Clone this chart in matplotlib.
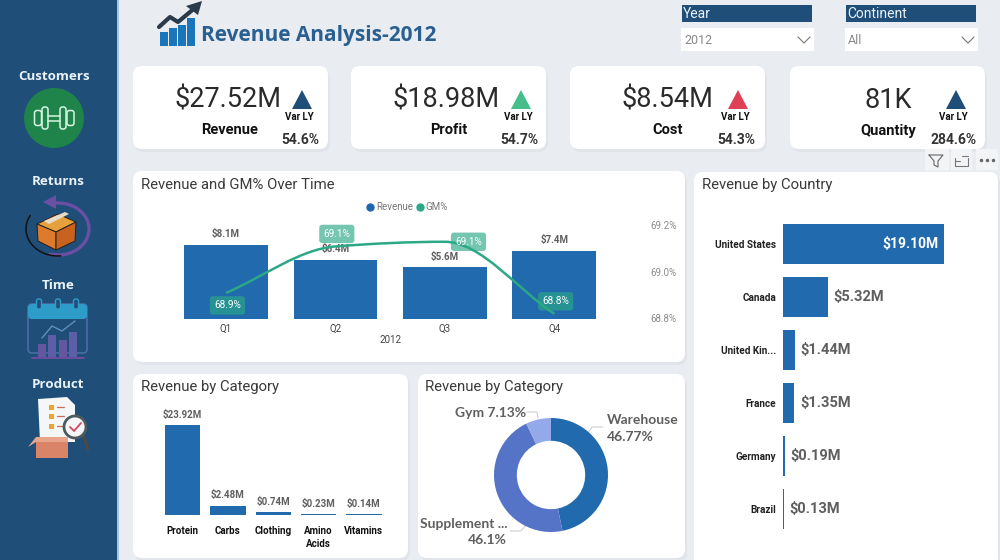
#!/usr/bin/env python
import numpy as np
import matplotlib
matplotlib.use('agg')
import matplotlib.pyplot as plt
from matplotlib.lines import Line2D
from matplotlib.patches import FancyBboxPatch, Rectangle, Circle, Ellipse, Polygon, PathPatch
from matplotlib.path import Path

plt.rcParams['font.family'] = ['Roboto', 'DejaVu Sans']

# KPI cards
kpi_names = ['Revenue', 'Profit', 'Cost', 'Quantity']
kpi_values = ['$27.52M', '$18.98M', '$8.54M', '81K']
kpi_vars = ['54.6%', '54.7%', '54.3%', '284.6%']

# Combo chart
quarters = ['Q1', 'Q2', 'Q3', 'Q4']
revenue = [8.1, 6.4, 5.6, 7.4]
gm_pct = [68.91, 69.11, 69.13, 68.82]
gm_labels = ['68.9%', '69.1%', '69.1%', '68.8%']

# Category bars
categories = ['Protein', 'Carbs', 'Clothing', 'Amino\nAcids', 'Vitamins']
category_rev = [23.92, 2.48, 0.74, 0.23, 0.14]

# Donut
channels = ['Warehouse', 'Supplement ...', 'Gym']
channel_pct = [46.77, 46.1, 7.13]

# Country bars
countries = ['United States', 'Canada', 'United Kin...', 'France', 'Germany', 'Brazil']
country_rev = [19.10, 5.32, 1.44, 1.35, 0.19, 0.13]

NAVY = '#1F4E79'
BLUE = '#216AAE'
GREEN = '#2BA886'
BG = '#E9ECF1'
TXT = '#3A3A3A'
GREY = '#5F5F5F'

W, H = 1000, 560
fig = plt.figure(figsize=(10, 5.6), dpi=100, facecolor=BG)
bg = fig.add_axes([0, 0, 1, 1], zorder=0)
bg.set_xlim(0, W)
bg.set_ylim(H, 0)
bg.axis('off')


def px_axes(x0, y0, x1, y1):
    ax = fig.add_axes([x0 / W, 1 - y1 / H, (x1 - x0) / W, (y1 - y0) / H], zorder=2)
    ax.patch.set_alpha(0)
    for s in ax.spines.values():
        s.set_visible(False)
    ax.tick_params(length=0)
    return ax


def card(x0, y0, x1, y1, r=9):
    bg.add_patch(FancyBboxPatch((x0 + 2, y0 + 3), x1 - x0, y1 - y0, boxstyle='round,pad=0,rounding_size=%d' % r,
                                fc='#D5D9DF', ec='none', alpha=0.4, zorder=1))
    bg.add_patch(FancyBboxPatch((x0, y0), x1 - x0, y1 - y0, boxstyle='round,pad=0,rounding_size=%d' % r,
                                fc='white', ec='none', zorder=2))


def poly(pts, fc, z=5, ec='none', lw=0):
    bg.add_patch(Polygon(pts, closed=True, fc=fc, ec=ec, lw=lw, zorder=z))


def line(xs, ys, c, lw=1.0, z=5):
    bg.plot(xs, ys, color=c, lw=lw, zorder=z, solid_capstyle='round', solid_joinstyle='round')


# sidebar
bg.add_patch(Rectangle((0, 0), 117, H, fc=NAVY, ec='none', zorder=1))
bg.add_patch(Rectangle((117, 0), 2, H, fc='#A9C4E4', ec='none', zorder=1))
side_font = dict(color='#EAF2F8', fontsize=9.6, fontweight='bold', ha='center', va='center',
                 family='Open Sans', zorder=6)
bg.text(54, 76, 'Customers', **side_font)
bg.text(58, 181.5, 'Returns', **side_font)
bg.text(58, 285.5, 'Time', **side_font)
bg.text(58, 384.5, 'Product', **side_font)

# dumbbell icon
bg.add_patch(Ellipse((54, 118), 60, 60, fc='#1E8449', ec='none', zorder=4))
for x0, w, h in [(34.5, 7, 15), (42, 6, 22), (60, 6, 22), (67, 7, 15)]:
    bg.add_patch(FancyBboxPatch((x0, 118 - h / 2), w, h, boxstyle='round,pad=0,rounding_size=2.5',
                                fc='none', ec='#D9F5E3', lw=1.1, zorder=5))
line([48, 60], [115.5, 115.5], '#D9F5E3', 1.1)
line([48, 60], [120.5, 120.5], '#D9F5E3', 1.1)

# returns icon
t = np.radians(np.linspace(-105, 95, 50))
line(58 + 31 * np.cos(t), 229 - 26 * np.sin(t), '#6A4FA3', 2.4)
poly([(43, 202), (56, 195), (56, 209)], '#6A4FA3')
t = np.radians(np.linspace(150, 275, 30))
line(58 + 32 * np.cos(t), 229 - 27 * np.sin(t), '#111111', 1.1)
poly([(37, 224), (58, 214), (76, 222), (56, 232)], '#E5A23C', ec='#222222', lw=0.7)
poly([(37, 224), (56, 232), (56, 250), (38, 241)], '#DD7A2C', ec='#222222', lw=0.7)
poly([(56, 232), (76, 222), (75, 241), (56, 250)], '#C9621F', ec='#222222', lw=0.7)
poly([(44, 221), (65, 212), (69, 214), (49, 224)], '#E8DCC8')

# calendar icon
bg.add_patch(FancyBboxPatch((28, 304), 59, 49, boxstyle='round,pad=0,rounding_size=4', fc='none',
                            ec='#4D6FA8', lw=1.1, zorder=4))
bg.add_patch(FancyBboxPatch((28, 304), 59, 15, boxstyle='round,pad=0,rounding_size=4', fc='#2D9CC9',
                            ec='none', zorder=5))
for x0 in [39, 58, 76]:
    bg.add_patch(FancyBboxPatch((x0 - 2.5, 299), 5, 10, boxstyle='round,pad=0,rounding_size=2', fc=NAVY,
                                ec='#2D9CC9', lw=1, zorder=6))
for x0, y0, c in [(38, 344, '#64579F'), (48, 335, '#5C5FA8'), (59, 340, '#64579F'), (69, 332, '#5C5FA8')]:
    bg.add_patch(Rectangle((x0, y0), 8, 357 - y0, fc=c, ec='none', zorder=5))
line([42, 52, 62, 75], [338, 326, 331, 321], '#5E90B8', 1)
line([32, 84], [358, 358], '#6A4FA3', 1.4)

# product icon
poly([(38, 399), (67, 397), (75, 405), (75, 442), (40, 442)], '#F4F6F8')
for y0 in [407, 416, 426]:
    bg.add_patch(Rectangle((49, y0 - 2), 5, 5, fc='#EFA42E', ec='none', zorder=6))
    line([57, 64], [y0, y0], '#C96E5A', 0.9, 6)
poly([(36, 437), (68, 437), (68, 458), (36, 458)], '#D98468')
poly([(28, 447), (36, 437), (68, 437), (68, 442), (36, 442)], '#E8A58C')
line([84, 88], [437, 449], '#4A4A4A', 2.4)
bg.add_patch(Circle((75, 427), 11, fc='#F4F6F8', ec='#4D5B5E', lw=2, zorder=7))
line([70, 74, 81], [427, 431, 423], '#D8455A', 1.3, 8)

# logo and title
for x0, h in [(160, 14), (169, 18), (178, 21), (187, 28)]:
    bg.add_patch(Rectangle((x0, 46 - h), 8, h, fc='#1A75BB', ec='none', zorder=4))
line([159, 170, 178, 196], [27, 17, 22, 7], '#2B3A4A', 3, 5)
poly([(186, 6), (202, 1), (198, 15)], '#2B3A4A')
bg.text(201, 35, 'Revenue Analysis-2012', color='#2A6090', fontsize=15, fontweight='bold', family='Open Sans',
        ha='left', va='center', zorder=5)

# slicers
for x0, name, val in [(682, 'Year', '2012'), (846, 'Continent', 'All')]:
    bg.add_patch(Rectangle((x0, 5), 130, 17, fc=NAVY, ec='none', zorder=3))
    bg.text(x0 + 1, 14, name, color='#EAF2F8', fontsize=10, ha='left', va='center', zorder=4)
    bg.add_patch(Rectangle((x0 - 1, 28), 133, 23, fc='white', ec='none', zorder=3))
    bg.text(x0 + 2, 41, val, color='#8A8A8A', fontsize=9, ha='left', va='center', zorder=4)
    line([x0 + 116, x0 + 122, x0 + 128], [37, 43, 37], '#777777', 0.8)

# KPI cards
card_x = [133, 351, 570, 790]
arrow_c = [NAVY, '#45BE8A', '#E04055', NAVY]
value_x = [282, 500, 713, 912]
name_x = [230, 449, 668, 888]
var_x = [299, 518, 735, 953]
for i in range(4):
    card(card_x[i], 66, card_x[i] + 195, 149)
    bg.text(value_x[i], 100, kpi_values[i], color='#2A2A2A', fontsize=19.5, ha='right', va='center', zorder=5)
    bg.text(name_x[i], 130.5, kpi_names[i], color='#111111', fontsize=10.5, fontweight='bold', ha='center',
            va='center', zorder=5)
    bg.text(var_x[i], 116.5, 'Var LY', color='#111111', fontsize=7, fontweight='bold', ha='center', va='center', zorder=5)
    bg.text(var_x[i] + 1, 139.5, kpi_vars[i], color='#333333', fontsize=10, fontweight='bold', ha='center',
            va='center', zorder=5)
    ax_ = var_x[i] + 3
    poly([(ax_ - 10, 109), (ax_, 90), (ax_ + 10, 109)], arrow_c[i])

# visual header icons
for x0, w in [(925, 24), (951, 21), (976, 22)]:
    bg.add_patch(Rectangle((x0, 149), w, 21, fc='#F3F4F6', ec='none', zorder=3))
line([929, 943, 938, 938, 934, 934, 929], [155, 155, 161, 167, 165, 161, 155], '#666666', 0.8)
line([955, 955, 968, 968], [158, 166, 166, 158], '#777777', 0.8)
line([955, 960], [161, 161], '#777777', 0.8)
line([962, 968], [156, 156], '#777777', 0.8)
bg.plot([981, 987, 993], [160, 160, 160], ls='none', marker='o', ms=1.5, color='#666666', zorder=5)

# panels
card(133, 171, 685, 362)
card(694, 172, 998, 566)
card(133, 374, 408, 558)
card(418, 374, 685, 558)
title_font = dict(color=TXT, fontsize=10.7, ha='left', va='center', zorder=5)
bg.text(141, 185, 'Revenue and GM% Over Time', **title_font)
bg.text(702, 185, 'Revenue by Country', **title_font)
bg.text(141, 387, 'Revenue by Category', **title_font)
bg.text(425, 387, 'Revenue by Category', **title_font)

# combo chart
ax = px_axes(171.3, 214, 609, 318.5)
x = np.arange(len(quarters))
ax.bar(x, revenue, width=0.765, color=BLUE)
ax.set_xlim(-0.5, 3.5)
ax.set_ylim(0, 11.44)
ax.set_xticks(x, quarters, fontsize=7, color='#444444')
ax.set_yticks([])
ax.set_xlabel('2012', fontsize=7, color='#444444', labelpad=1)
ax.tick_params(axis='x', pad=4)
for xi, v in zip(x, revenue):
    ax.annotate('$%.1fM' % v, (xi, v), xytext=(0, 4), textcoords='offset points', ha='center', va='bottom',
                fontsize=7, fontweight='bold', color=GREY, zorder=3)

ax2 = ax.twinx()
ax2.patch.set_alpha(0)
for s in ax2.spines.values():
    s.set_visible(False)
ax2.set_ylim(68.8, 68.8 + 104.5 / 232.5)
ax2.set_yticks([68.8, 69.0, 69.2], ['68.8%', '69.0%', '69.2%'], fontsize=7, color='#8C8C8C')
ax2.tick_params(length=0, pad=30)

# monotone smoothing between the four quarter values
d = np.diff(gm_pct)
tang = [d[0]]
for i in range(2):
    tang.append(2 * d[i] * d[i + 1] / (d[i] + d[i + 1]) if d[i] * d[i + 1] > 0 else 0.0)
tang.append(d[-1])
verts = [(x[0], gm_pct[0])]
codes = [Path.MOVETO]
for i in range(3):
    verts += [(x[i] + 1 / 3, gm_pct[i] + tang[i] / 3),
              (x[i + 1] - 1 / 3, gm_pct[i + 1] - tang[i + 1] / 3),
              (x[i + 1], gm_pct[i + 1])]
    codes += [Path.CURVE4] * 3
ax2.add_patch(PathPatch(Path(verts, codes), fc='none', ec=GREEN, lw=1.8, zorder=4))
label_off = [(1, -9), (1, 9), (17, 0), (1, 9)]
for xi, v, s, off in zip(x, gm_pct, gm_labels, label_off):
    ax2.annotate(s, (xi, v), xytext=off, textcoords='offset points', ha='center', va='center', fontsize=7.2,
                 color='white', zorder=5,
                 bbox=dict(boxstyle='round,pad=0.42,rounding_size=0.3', fc=GREEN, ec='none', alpha=0.65))
fig.legend(handles=[Line2D([], [], ls='none', marker='o', ms=5, color='#1F66B0'),
                    Line2D([], [], ls='none', marker='o', ms=5, color=GREEN)],
           labels=['Revenue', 'GM%'], loc='center', bbox_to_anchor=(407 / W, 1 - 207.5 / H), ncol=2, frameon=False,
           fontsize=7, labelcolor='#777777', handlelength=0.8, handletextpad=0.2, columnspacing=0.3, borderpad=0)

# category bars
ax = px_axes(160, 400, 386.5, 515)
x = np.arange(len(categories))
ax.bar(x, category_rev, width=0.78, color=BLUE)
ax.set_xlim(-0.5, 4.5)
ax.set_ylim(0, 115 / 3.76)
ax.set_xticks(x, categories, fontsize=7, fontweight='bold', color='#111111', linespacing=1.3)
ax.set_yticks([])
ax.tick_params(axis='x', pad=8)
for xi, v in zip(x, category_rev):
    ax.annotate('$%.2fM' % v, (xi, v), xytext=(0, 4), textcoords='offset points', ha='center', va='bottom',
                fontsize=7, fontweight='bold', color=GREY)

# donut
ax = px_axes(491, 413, 611, 537)
ax.pie(channel_pct, startangle=90, counterclock=False, radius=1, colors=[BLUE, '#5573C7', '#93A9EA'],
       wedgeprops=dict(width=0.4, edgecolor='none'))
ax.set_aspect('auto')
ax.set_xlim(-60 / 57, 60 / 57)
ax.set_ylim(-62 / 57, 62 / 57)
lab = dict(color=GREY, fontsize=10, fontweight='bold', va='center', zorder=6, family='Lato')
bg.text(607, 419.5, channels[0], ha='left', **lab)
bg.text(607, 437, '%.2f%%' % channel_pct[0], ha='left', **lab)
bg.text(507, 523.5, channels[1], ha='right', **lab)
bg.text(507, 540, '%.1f%%' % channel_pct[1], ha='right', **lab)
bg.text(526, 413, '%s %.2f%%' % (channels[2], channel_pct[2]), ha='right', **lab)
line([603, 592, 588], [427, 427, 433], '#C8C8C8', 0.7)
line([527, 537, 538], [412, 412, 418], '#C8C8C8', 0.7)
line([510, 521, 526], [531, 531, 525], '#C8C8C8', 0.7)

# country bars
ax = px_axes(783, 217.5, 993, 535.5)
y = np.arange(len(countries))
ax.barh(y, country_rev, height=0.75, color=BLUE)
ax.set_xlim(0, 210 / 8.43)
ax.set_ylim(5.5, -0.5)
ax.set_yticks(y, countries, fontsize=7.2, fontweight='bold', color='#222222')
ax.set_xticks([])
ax.tick_params(axis='y', pad=5)
for yi, v in zip(y, country_rev):
    if v > 10:
        ax.annotate('$%.2fM' % v, (v, yi), xytext=(-4, 0), textcoords='offset points', ha='right', va='center',
                    fontsize=10, fontweight='bold', color='white')
    else:
        ax.annotate('$%.2fM' % v, (v, yi), xytext=(4, 0), textcoords='offset points', ha='left', va='center',
                    fontsize=10.5, fontweight='bold', color=GREY)

fig.savefig('out.png', dpi=100, facecolor=BG)
